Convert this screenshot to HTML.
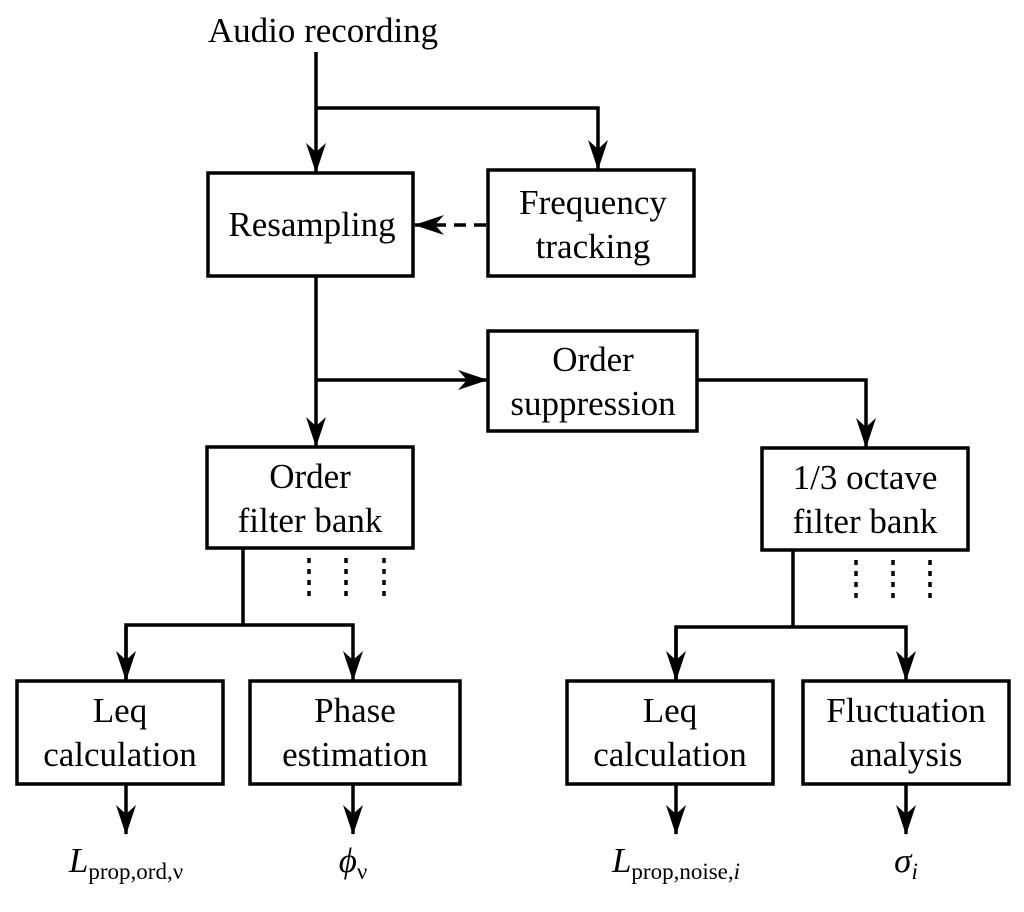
<!DOCTYPE html>
<html><head><style>html,body{margin:0;padding:0;background:#fff}</style></head><body>
<svg width="1024" height="907" viewBox="0 0 1024 907" xmlns="http://www.w3.org/2000/svg" font-family="Liberation Serif, serif" font-size="35">
<defs>
<marker id="b" viewBox="0 0 30 20" markerWidth="30" markerHeight="20" refX="29" refY="10" orient="auto" markerUnits="userSpaceOnUse"><path d="M0,0 L30,10 L0,20 L9,10 Z"/></marker></defs>
<g fill="none" stroke="#000" stroke-width="3.5">
<rect x="208" y="173" width="205" height="103"/>
<rect x="488" y="170" width="206" height="106"/>
<rect x="488" y="331" width="209" height="100"/>
<rect x="207" y="447" width="206" height="101"/>
<rect x="762" y="448" width="206" height="102"/>
<rect x="17" y="681" width="206" height="103"/>
<rect x="250" y="681" width="210" height="103"/>
<rect x="567" y="681" width="206" height="103"/>
<rect x="803" y="681" width="206" height="103"/>
<path d="M316,52 V172" marker-end="url(#b)"/>
<path d="M316,108 H598 V169" marker-end="url(#b)"/>
<path d="M486,225 H415" stroke-dasharray="12,8" marker-end="url(#b)"/>
<path d="M316,276 V446" marker-end="url(#b)"/>
<path d="M316,380 H487" marker-end="url(#b)"/>
<path d="M697,380 H866 V447" marker-end="url(#b)"/>
<path d="M243,548 V625"/>
<path d="M126,680 V625 H353 V680" marker-end="url(#b)"/>
<path d="M126,627 V680" marker-end="url(#b)"/>
<path d="M793,550 V627"/>
<path d="M676,680 V627 H906 V680" marker-end="url(#b)"/>
<path d="M676,629 V680" marker-end="url(#b)"/>
<path d="M126,784 V834" marker-end="url(#b)"/>
<path d="M353,784 V834" marker-end="url(#b)"/>
<path d="M676,784 V834" marker-end="url(#b)"/>
<path d="M906,784 V834" marker-end="url(#b)"/>
<g stroke-dasharray="5,6"><path d="M309,558 V602 M346,558 V602 M384,558 V602 M856,560 V604 M893,560 V604 M930,560 V604"/></g>
</g>
<g text-anchor="middle">
<text x="323" y="42">Audio recording</text>
<text x="312" y="236">Resampling</text>
<text x="593" y="214">Frequency</text><text x="593" y="258">tracking</text>
<text x="593" y="371">Order</text><text x="593" y="415">suppression</text>
<text x="310" y="488">Order</text><text x="310" y="532">filter bank</text>
<text x="865" y="489">1/3 octave</text><text x="865" y="533">filter bank</text>
<text x="120" y="722">Leq</text><text x="120" y="766">calculation</text>
<text x="355" y="722">Phase</text><text x="355" y="766">estimation</text>
<text x="670" y="722">Leq</text><text x="670" y="766">calculation</text>
<text x="906" y="722">Fluctuation</text><text x="906" y="766">analysis</text>
<text x="126" y="872"><tspan font-style="italic">L</tspan><tspan font-size="23" dy="7">prop,ord,ν</tspan></text>
<text x="353" y="872"><tspan font-style="italic">ϕ</tspan><tspan font-size="23" dy="7">ν</tspan></text>
<text x="676" y="872"><tspan font-style="italic">L</tspan><tspan font-size="23" dy="7">prop,noise,</tspan><tspan font-size="23" font-style="italic">i</tspan></text>
<text x="906" y="872"><tspan font-style="italic">σ</tspan><tspan font-size="23" font-style="italic" dy="7">i</tspan></text>
</g>
</svg>
</body></html>
